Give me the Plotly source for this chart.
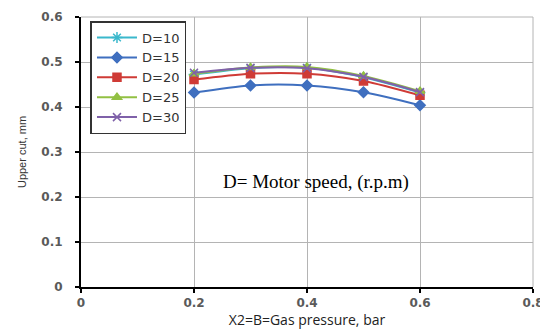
import plotly.graph_objects as go

x_vals = [0.2, 0.3, 0.4, 0.5, 0.6]
d10 = [0.472, 0.486, 0.487, 0.466, 0.432]
d15 = [0.432, 0.448, 0.448, 0.433, 0.404]
d20 = [0.461, 0.474, 0.474, 0.458, 0.426]
d25 = [0.474, 0.488, 0.489, 0.469, 0.435]
d30 = [0.476, 0.487, 0.486, 0.467, 0.433]

series = [
    ("D=10", d10, "#3ab8cc", "asterisk-open", 9),
    ("D=15", d15, "#3f6fbf", "diamond", 8),
    ("D=20", d20, "#cf3b36", "square", 8),
    ("D=25", d25, "#92c043", "triangle-up", 8),
    ("D=30", d30, "#7f61a9", "x-thin-open", 8),
]

fig = go.Figure()
for name, ys, col, sym, sz in series:
    fig.add_trace(go.Scatter(
        x=x_vals, y=ys, name=name, mode="lines+markers",
        line=dict(color=col, width=2, shape="spline", smoothing=0.8),
        marker=dict(symbol=sym, size=sz, color=col, line=dict(color=col, width=1.5)),
    ))

fig.add_annotation(x=0.416, y=0.233, xref="x", yref="y", text="D= Motor speed, (r.p.m)",
                   showarrow=False, font=dict(family="Liberation Serif", size=19, color="black"))

fig.update_layout(
    width=540, height=323,
    margin=dict(l=73, r=15, t=9, b=44),
    paper_bgcolor="white", plot_bgcolor="white",
    showlegend=True,
    legend=dict(x=0.021, y=0.985, xanchor="left", yanchor="top",
                bordercolor="#333333", borderwidth=1.5, bgcolor="white",
                font=dict(family="DejaVu Sans", size=13, color="#333333"),
                tracegroupgap=0, itemwidth=40),
    font=dict(family="DejaVu Sans", color="#555555"),
)
fig.update_xaxes(range=[0, 0.8], tickvals=[0, 0.2, 0.4, 0.6, 0.8],
                 ticktext=["0", "0.2", "0.4", "0.6", "0.8"],
                 showgrid=True, gridcolor="#b4b4b4", gridwidth=1,
                 showline=True, linecolor="black", linewidth=2,
                 ticks="outside", tickcolor="black", ticklen=4, tickwidth=2,
                 automargin=False,
                 tickfont=dict(family="DejaVu Sans", size=12, color="#5a5a5a", weight="bold"),
                 title=dict(text="X2=B=Gas pressure, bar", standoff=3,
                            font=dict(family="Open Sans", size=14, color="#222222")),
                 zeroline=False)
fig.update_yaxes(range=[0, 0.6], tickvals=[0, 0.1, 0.2, 0.3, 0.4, 0.5, 0.6],
                 ticktext=["0", "0.1", "0.2", "0.3", "0.4", "0.5", "0.6"],
                 showgrid=True, gridcolor="#b4b4b4", gridwidth=1,
                 showline=True, linecolor="black", linewidth=2,
                 ticks="outside", tickcolor="black", ticklen=4, tickwidth=2,
                 ticklabelstandoff=10, automargin=False,
                 tickfont=dict(family="DejaVu Sans", size=12, color="#5a5a5a", weight="bold"),
                 title=dict(text="Upper cut, mm", standoff=12,
                            font=dict(family="Liberation Sans", size=11, color="#333333")),
                 zeroline=False)
fig.add_shape(type="line", xref="paper", yref="paper", x0=1, x1=1, y0=0, y1=1,
              line=dict(color="#b4b4b4", width=1))
fig.add_shape(type="line", xref="paper", yref="paper", x0=0, x1=1, y0=1, y1=1,
              line=dict(color="#b4b4b4", width=1))

fig.write_html("out.html")
